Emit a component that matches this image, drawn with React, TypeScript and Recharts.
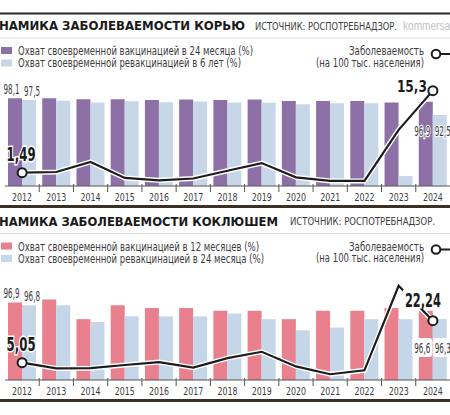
import React from 'react'
import { ComposedChart, Bar, Line, XAxis, YAxis, LabelList } from 'recharts'

const years = ['2012', '2013', '2014', '2015', '2016', '2017', '2018', '2019', '2020', '2021', '2022', '2023', '2024']

// measles (корь)
const measlesVax24m = [98.1, 98.1, 97.8, 97.8, 97.5, 97.7, 97.5, 97.7, 97.2, 97.2, 97.2, 96.7, 96.9]
const measlesRevax6y = [97.5, 97.3, 96.7, 97.1, 96.8, 97.0, 96.7, 96.6, 96.1, 96.4, 96.4, 72.0, 92.5]
const measlesRate = [1.49, 1.6, 3.3, 0.6, 0.2, 0.5, 1.8, 3.1, 0.7, 0.1, 0.1, 8.7, 15.3]

// pertussis (коклюш)
const pertussisVax12m = [96.9, 97.0, 96.3, 96.8, 96.7, 96.7, 96.6, 96.6, 96.3, 96.6, 96.6, 96.7, 96.6]
const pertussisRevax24m = [96.8, 96.8, 96.2, 96.4, 96.4, 96.4, 96.5, 96.3, 95.9, 96.0, 96.3, 96.3, 96.3]
const pertussisRate = [5.05, 2.7, 2.8, 4.1, 5.3, 3.0, 6.9, 9.5, 3.5, 0.3, 1.9, 36.5, 22.24]

const W = 450
const PLOT_LEFT = 5
const HALF_BAND = (W - PLOT_LEFT) / years.length / 2

const NARROW = "'Liberation Sans Narrow', 'DejaVu Sans Condensed', 'Roboto Condensed', 'Liberation Sans', sans-serif"
const HEAVY = "'DejaVu Sans', 'Liberation Sans', sans-serif"
const INK = '#1c1c1c'
const GREY = '#3d3d3d'

const fmt = (v: number) => String(v).replace('.', ',')

const YearTick = (props: any) => {
  const { x, y, payload, index } = props
  return (
    <g>
      <text x={x} y={y + 15} textAnchor="middle" fontSize={11} fontFamily={NARROW} fill={GREY}
        textLength={20} lengthAdjust="spacingAndGlyphs">
        {payload.value}
      </text>
      {index < years.length - 1 && (
        <line x1={x + HALF_BAND} x2={x + HALF_BAND} y1={y - 2} y2={y + 6} stroke="#555" strokeWidth={1} />
      )}
    </g>
  )
}

// labels on first and last category; shift pulls the pair of labels apart
function barLabel(lift: number, boxed: boolean, shift: number) {
  return (props: any) => {
    const { x, y, width, height, value, index } = props
    const cx = x + width / 2 + shift
    if (index === 0) {
      return (
        <text x={cx} y={y - 4} textAnchor="middle" fontSize={14} fontFamily={NARROW} fill={GREY}
          textLength={16} lengthAdjust="spacingAndGlyphs">
          {fmt(value)}
        </text>
      )
    }
    if (index === years.length - 1) {
      const by = y + height - lift
      return (
        <g>
          {boxed && <rect x={cx - 10} y={by - 10} width={20} height={19} rx={3} fill="#fff" />}
          <text x={cx} y={by + 5} textAnchor="middle" fontSize={14} fontFamily={NARROW} fill={GREY}
            stroke={boxed ? 'none' : '#fff'} strokeWidth={2.5} paintOrder="stroke"
            textLength={16} lengthAdjust="spacingAndGlyphs">
            {fmt(value)}
          </text>
        </g>
      )
    }
    return null
  }
}

function rateDot(lastMode: 'left' | 'above') {
  return (props: any) => {
    const { cx, cy, index, value } = props
    const key = `d${index}`
    if (index === 0) {
      return (
        <g key={key}>
          <text x={cx - 1} y={cy - 12} textAnchor="middle" fontSize={19} fontWeight={700} fontFamily={NARROW}
            fill={INK} stroke="#fff" strokeWidth={3} paintOrder="stroke"
            textLength={29} lengthAdjust="spacingAndGlyphs">
            {fmt(value)}
          </text>
          <circle cx={cx} cy={cy} r={4.5} fill="#fff" stroke={INK} strokeWidth={2} />
        </g>
      )
    }
    if (index === years.length - 1) {
      return (
        <g key={key}>
          {lastMode === 'left' ? (
            <text x={cx - 6} y={cy + 1} textAnchor="end" fontSize={16} fontWeight={700} fontFamily={NARROW}
              fill={INK} stroke="#fff" strokeWidth={3} paintOrder="stroke"
              textLength={30} lengthAdjust="spacingAndGlyphs">
              {fmt(value)}
            </text>
          ) : (
            <g>
              <rect x={cx - 30} y={cy - 31} width={40} height={19} fill="#fff" />
              <text x={cx - 10} y={cy - 14} textAnchor="middle" fontSize={19} fontWeight={700} fontFamily={NARROW}
                fill={INK} textLength={36} lengthAdjust="spacingAndGlyphs">
                {fmt(value)}
              </text>
            </g>
          )}
          <circle cx={cx} cy={cy} r={4.5} fill="#fff" stroke={INK} strokeWidth={2} />
        </g>
      )
    }
    return <g key={key} />
  }
}

interface PanelProps {
  top: number
  height: number
  marginTop: number
  axisHeight: number
  vax: number[]
  revax: number[]
  rate: number[]
  vaxColor: string
  revaxColor: string
  barDomain: [number, number]
  lineDomain: [number, number]
  lift: number
  boxed: boolean
  lastMode: 'left' | 'above'
}

function Panel(p: PanelProps) {
  const data = years.map((year, i) => ({ year, vax: p.vax[i], revax: p.revax[i], rate: p.rate[i] }))
  return (
    <div style={{ position: 'absolute', left: 0, top: p.top }}>
      <ComposedChart width={W} height={p.height} data={data}
        margin={{ top: p.marginTop, right: 0, left: PLOT_LEFT, bottom: 0 }}
        barCategoryGap={3} barGap={0}>
        <XAxis dataKey="year" height={p.axisHeight} tickSize={0} tickMargin={0} tickLine={false}
          axisLine={{ stroke: '#555', strokeWidth: 1 }} tick={YearTick} interval={0} />
        <YAxis yAxisId="bars" hide domain={p.barDomain} allowDataOverflow type="number" />
        <YAxis yAxisId="line" hide domain={p.lineDomain} allowDataOverflow type="number" orientation="right" />
        <Bar yAxisId="bars" dataKey="vax" fill={p.vaxColor} isAnimationActive={false}>
          <LabelList dataKey="vax" content={barLabel(p.lift, p.boxed, -3.5)} />
        </Bar>
        <Bar yAxisId="bars" dataKey="revax" fill={p.revaxColor} isAnimationActive={false}>
          <LabelList dataKey="revax" content={barLabel(p.lift, p.boxed, 3)} />
        </Bar>
        <Line yAxisId="line" dataKey="rate" type="linear" stroke="#fff" strokeWidth={5} dot={false}
          activeDot={false} isAnimationActive={false} />
        <Line yAxisId="line" dataKey="rate" type="linear" stroke={INK} strokeWidth={2.2}
          dot={rateDot(p.lastMode)} activeDot={false} isAnimationActive={false} />
      </ComposedChart>
    </div>
  )
}

const HText = ({ x, y, w, size, children, anchor = 'start', fill = GREY, family = NARROW, weight = 400 }: any) => (
  <text x={x} y={y} fontSize={size} fontFamily={family} fontWeight={weight} fill={fill} textAnchor={anchor}
    textLength={w} lengthAdjust="spacingAndGlyphs">
    {children}
  </text>
)

function Header({ y0, title, titleW, sourceX, sourceW, site, legend1, legend1W, legend2, legend2W, c1, c2 }: any) {
  return (
    <g>
      <HText x={-1} y={y0 + 17} w={titleW} size={13} family={HEAVY} weight={900} fill="#1a1a1a">{title}</HText>
      <HText x={sourceX} y={y0 + 16.5} w={sourceW} size={10.5}>ИСТОЧНИК: РОСПОТРЕБНАДЗОР.</HText>
      {site && <HText x={403} y={y0 + 16.5} w={47} size={12} fill="#c2c2c2" family="'Liberation Sans', sans-serif">{site}</HText>}
      <line x1={0} x2={W} y1={y0 + 25} y2={y0 + 25} stroke="#dedede" strokeWidth={1} />
      <rect x={1} y={y0 + 34} width={11} height={7} fill={c1} />
      <rect x={1} y={y0 + 46.5} width={11} height={7} fill={c2} />
      <HText x={18} y={y0 + 42} w={legend1W} size={11.5}>{legend1}</HText>
      <HText x={18} y={y0 + 54} w={legend2W} size={11.5}>{legend2}</HText>
      <HText x={424} y={y0 + 42} w={75} size={11.5} anchor="end">Заболеваемость</HText>
      <HText x={424} y={y0 + 53.5} w={108} size={11.5} anchor="end">(на 100 тыс. населения)</HText>
      <line x1={440} x2={W} y1={y0 + 41} y2={y0 + 41} stroke={INK} strokeWidth={2} />
      <circle cx={436} cy={y0 + 41} r={4.3} fill="#fff" stroke={INK} strokeWidth={2} />
    </g>
  )
}

export default function App() {
  return (
    <div style={{ position: 'absolute', left: 0, top: 0, width: W, height: 415, background: '#fff', overflow: 'hidden' }}>
      <Panel top={0} height={207} marginTop={80} axisHeight={21}
        vax={measlesVax24m} revax={measlesRevax6y} rate={measlesRate}
        vaxColor="#8d70a5" revaxColor="#c7d7e8"
        barDomain={[68.67, 104.24]} lineDomain={[-0.76, 17.09]}
        lift={55} boxed={false} lastMode="left" />
      <Panel top={207} height={193} marginTop={73} axisHeight={20}
        vax={pertussisVax12m} revax={pertussisRevax24m} rate={pertussisRate}
        vaxColor="#e8808d" revaxColor="#c5d6e9"
        barDomain={[94.125, 97.7]} lineDomain={[-2.05, 38.89]}
        lift={32} boxed={true} lastMode="above" />
      <svg width={W} height={415} style={{ position: 'absolute', left: 0, top: 0, pointerEvents: 'none' }}>
        <line x1={0} x2={W} y1={13.5} y2={13.5} stroke="#2b2520" strokeWidth={2} />
        <Header y0={13} title="НАМИКА ЗАБОЛЕВАЕМОСТИ КОРЬЮ" titleW={246} sourceX={255} sourceW={142}
          site="kommersa"
          legend1="Охват своевременной вакцинацией в 24 месяца (%)" legend1W={235}
          legend2="Охват своевременной ревакцинацией в 6 лет (%)" legend2W={223}
          c1="#8d70a5" c2="#c7d7e8" />
        <line x1={0} x2={W} y1={206.5} y2={206.5} stroke="#3a3028" strokeWidth={3} />
        <Header y0={208.5} title="НАМИКА ЗАБОЛЕВАЕМОСТИ КОКЛЮШЕМ" titleW={279} sourceX={290} sourceW={145}
          legend1="Охват своевременной вакцинацией в 12 месяцев (%)" legend1W={241}
          legend2="Охват своевременной ревакцинацией в 24 месяца (%)" legend2W={246}
          c1="#e8808d" c2="#c5d6e9" />
        <line x1={0} x2={W} y1={400.5} y2={400.5} stroke="#3a3028" strokeWidth={3} />
      </svg>
    </div>
  )
}
